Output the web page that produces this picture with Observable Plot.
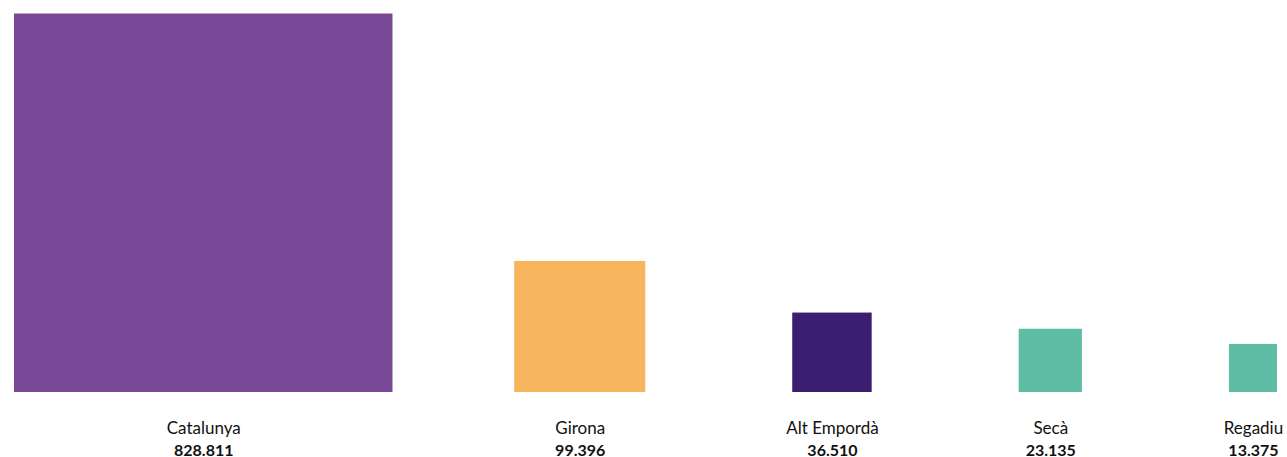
<!DOCTYPE html>
<html>
<head>
<meta charset="utf-8">
<script src="https://cdn.jsdelivr.net/npm/d3@7"></script>
<script src="https://cdn.jsdelivr.net/npm/@observablehq/plot@0.6"></script>
<style>
  html, body { margin: 0; padding: 0; background: #fff; }
  #chart svg { display: block; overflow: visible; }
</style>
</head>
<body>
<div id="chart"></div>
<script>
// ---- data ----
const names  = ["Catalunya", "Girona", "Alt Empordà", "Secà", "Regadiu"];
const values = [828811, 99396, 36510, 23135, 13375];
const colors = ["#784896", "#f7b55d", "#3a1f70", "#5ebda4", "#5ebda4"];

// ---- layout (squares with area proportional to value) ----
const W = 1287, H = 457;
const mt = 12, mb = 65, ml = 14, mr = 10;
const maxSide = Math.sqrt(d3.max(values));
const pxPerUnit = 378.5 / maxSide;                   // px per sqrt-unit
const yTop = (H - mt - mb) / pxPerUnit;              // y domain in sqrt-units
const xSpan = (W - ml - mr) / pxPerUnit;             // x domain in sqrt-units
const gap = 147 / pxPerUnit;                         // gap between packed squares

const sides = values.map(v => Math.sqrt(v));
const x1s = new Array(values.length);
x1s[0] = 0;                                          // first square pinned left
let right = xSpan;                                   // the others packed to the right
for (let i = values.length - 1; i >= 1; i--) {
  x1s[i] = right - sides[i];
  right = x1s[i] - gap;
}
const rows = names.map((n, i) => ({
  name: n, value: values[i], color: colors[i],
  x1: x1s[i], x2: x1s[i] + sides[i], side: sides[i], cx: x1s[i] + sides[i] / 2
}));

const ca = d3.formatLocale({decimal: ",", thousands: ".", grouping: [3], currency: ["", " €"]});
const fmt = ca.format(",d");

const chart = Plot.plot({
  width: W, height: H,
  marginTop: mt, marginBottom: mb, marginLeft: ml, marginRight: mr,
  x: {domain: [0, xSpan], axis: null},
  y: {domain: [0, yTop], axis: null},
  style: {fontFamily: "Lato, 'Open Sans', sans-serif", background: "#fff"},
  marks: [
    Plot.rect(rows, {x1: "x1", x2: "x2", y1: 0, y2: "side", fill: "color"}),
    Plot.text(rows, {x: "cx", y: 0, text: "name", dy: 41, lineAnchor: "bottom",
      textAnchor: "middle", fontSize: 17, fill: "#111"}),
    Plot.text(rows, {x: "cx", y: 0, text: d => fmt(d.value), dy: 63, lineAnchor: "bottom",
      textAnchor: "middle", fontSize: 16, fontWeight: "bold", fill: "#111"})
  ]
});
document.getElementById("chart").append(chart);
</script>
</body>
</html>
